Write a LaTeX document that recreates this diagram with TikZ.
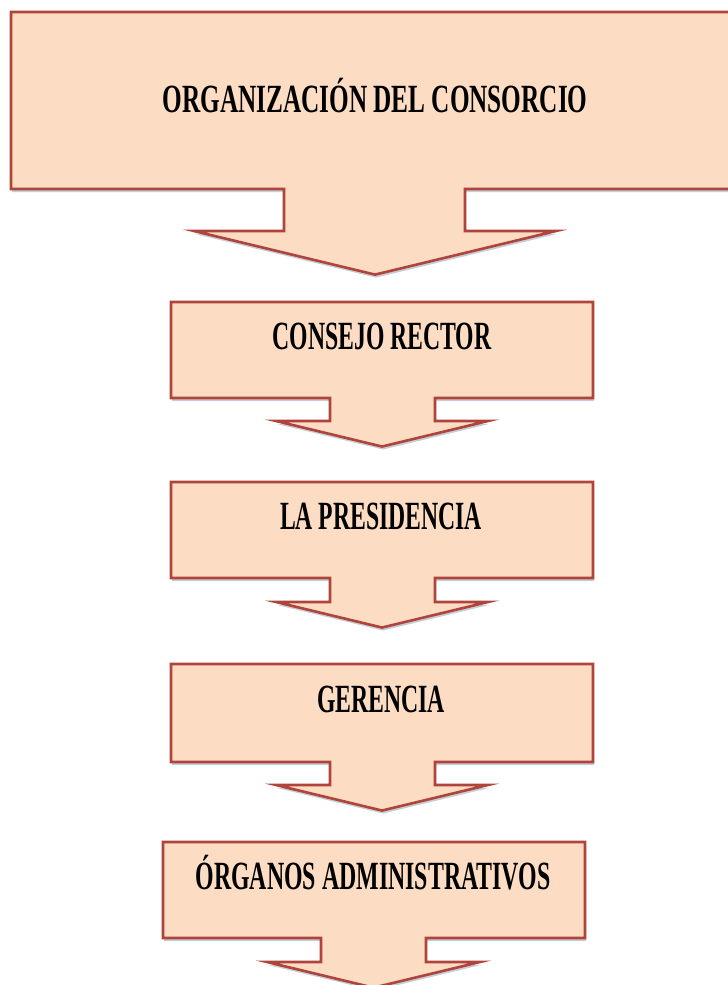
\documentclass[tikz,border=0pt]{standalone}
\usepackage{fontspec}
\setmainfont{Liberation Serif}
\usepackage{graphicx}
\usetikzlibrary{shadows}
\definecolor{peach}{HTML}{FDDCC4}
\definecolor{edgered}{HTML}{B0443B}
\definecolor{shadowblue}{HTML}{9FAEBE}
\tikzset{
  callout/.style={fill=peach, draw=edgered, line width=2.6pt, line join=miter,
    drop shadow={shadow xshift=1pt, shadow yshift=-3pt, fill=shadowblue, opacity=0.6}},
  label/.style={anchor=base, inner sep=0pt, font=\fontsize{40}{44}\selectfont\bfseries, text=black}
}
% #1 L, #2 T, #3 R, #4 B, #5 stem left, #6 stem right, #7 wing y, #8 wing left, #9 wing right, tip x = centre
\newcommand{\arrowbox}[9]{%
  \path[callout] (#1,#2) -- (#3,#2) -- (#3,#4) -- (#6,#4) -- (#6,#7) -- (#9,#7)
    -- ({(#8+#9)/2},{#7+(#9-#8)/8.3}) -- (#8,#7) -- (#5,#7) -- (#5,#4) -- (#1,#4) -- cycle;}
\begin{document}
\begin{tikzpicture}[x=1pt,y=-1pt]
\useasboundingbox (0,0) rectangle (728,985);
\clip (0,0) rectangle (728,985);
\arrowbox{11}{12}{745}{189}{284}{465}{231}{194}{556}
\arrowbox{171}{302}{593}{398}{330}{435}{421}{276}{488}
\arrowbox{171}{482}{593}{578}{330}{435}{602}{276}{488}
\arrowbox{171}{664}{593}{762}{330}{435}{785}{276}{488}
\arrowbox{163}{842}{585}{938}{321}{426}{962}{267}{480}
\node[label] (t1) at (375,112) {\resizebox{425pt}{\height}{ORGANIZACIÓN DEL CONSORCIO}};
\node[label] (t2) at (382,349) {\resizebox{219pt}{\height}{CONSEJO RECTOR}};
\node[label] (t3) at (381,529) {\resizebox{202pt}{\height}{LA PRESIDENCIA}};
\node[label] (t4) at (381,712) {\resizebox{128pt}{\height}{GERENCIA}};
\node[label] (t5) at (373,889) {\resizebox{355pt}{\height}{ÓRGANOS ADMINISTRATIVOS}};
\end{tikzpicture}
\end{document}
